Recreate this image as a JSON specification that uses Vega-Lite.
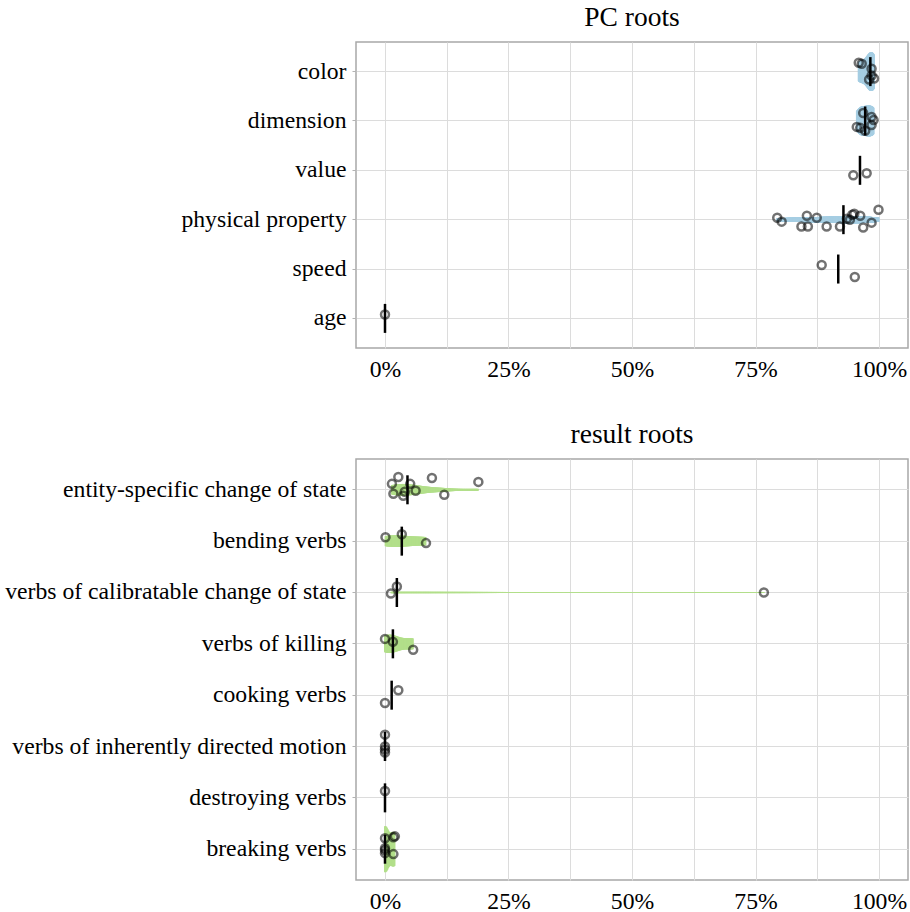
{
  "$schema": "https://vega.github.io/schema/vega-lite/v6.json",
  "background": "white",
  "padding": {"left": 3, "top": 2, "right": 2, "bottom": 2},
  "datasets": {
    "pts": [
      {"panel": "PC", "cat": "color", "v": 0.959, "j": -0.18},
      {"panel": "PC", "cat": "color", "v": 0.965, "j": -0.16},
      {"panel": "PC", "cat": "color", "v": 0.985, "j": -0.06},
      {"panel": "PC", "cat": "color", "v": 0.985, "j": 0.08},
      {"panel": "PC", "cat": "color", "v": 0.980, "j": 0.16},
      {"panel": "PC", "cat": "color", "v": 0.990, "j": 0.14},
      {"panel": "PC", "cat": "dimension", "v": 0.968, "j": -0.16},
      {"panel": "PC", "cat": "dimension", "v": 0.985, "j": -0.08},
      {"panel": "PC", "cat": "dimension", "v": 0.989, "j": -0.02},
      {"panel": "PC", "cat": "dimension", "v": 0.985, "j": 0.08},
      {"panel": "PC", "cat": "dimension", "v": 0.955, "j": 0.12},
      {"panel": "PC", "cat": "dimension", "v": 0.962, "j": 0.14},
      {"panel": "PC", "cat": "dimension", "v": 0.972, "j": 0.2},
      {"panel": "PC", "cat": "value", "v": 0.948, "j": 0.1},
      {"panel": "PC", "cat": "value", "v": 0.975, "j": 0.06},
      {"panel": "PC", "cat": "physical property", "v": 0.794, "j": -0.04},
      {"panel": "PC", "cat": "physical property", "v": 0.803, "j": 0.04},
      {"panel": "PC", "cat": "physical property", "v": 0.854, "j": -0.08},
      {"panel": "PC", "cat": "physical property", "v": 0.843, "j": 0.14},
      {"panel": "PC", "cat": "physical property", "v": 0.856, "j": 0.14},
      {"panel": "PC", "cat": "physical property", "v": 0.874, "j": -0.04},
      {"panel": "PC", "cat": "physical property", "v": 0.894, "j": 0.14},
      {"panel": "PC", "cat": "physical property", "v": 0.921, "j": 0.14},
      {"panel": "PC", "cat": "physical property", "v": 0.935, "j": -0.02},
      {"panel": "PC", "cat": "physical property", "v": 0.941, "j": 0.0},
      {"panel": "PC", "cat": "physical property", "v": 0.946, "j": -0.1},
      {"panel": "PC", "cat": "physical property", "v": 0.950, "j": -0.12},
      {"panel": "PC", "cat": "physical property", "v": 0.962, "j": -0.08},
      {"panel": "PC", "cat": "physical property", "v": 0.968, "j": 0.16},
      {"panel": "PC", "cat": "physical property", "v": 0.985, "j": 0.06},
      {"panel": "PC", "cat": "physical property", "v": 0.999, "j": -0.2},
      {"panel": "PC", "cat": "speed", "v": 0.884, "j": -0.08},
      {"panel": "PC", "cat": "speed", "v": 0.951, "j": 0.16},
      {"panel": "PC", "cat": "age", "v": 0.0, "j": -0.08},
      {"panel": "result", "cat": "entity-specific change of state", "v": 0.027, "j": -0.24},
      {"panel": "result", "cat": "entity-specific change of state", "v": 0.014, "j": -0.1},
      {"panel": "result", "cat": "entity-specific change of state", "v": 0.017, "j": 0.1},
      {"panel": "result", "cat": "entity-specific change of state", "v": 0.037, "j": 0.14},
      {"panel": "result", "cat": "entity-specific change of state", "v": 0.040, "j": 0.06},
      {"panel": "result", "cat": "entity-specific change of state", "v": 0.051, "j": -0.1},
      {"panel": "result", "cat": "entity-specific change of state", "v": 0.062, "j": 0.04},
      {"panel": "result", "cat": "entity-specific change of state", "v": 0.095, "j": -0.22},
      {"panel": "result", "cat": "entity-specific change of state", "v": 0.120, "j": 0.12},
      {"panel": "result", "cat": "entity-specific change of state", "v": 0.189, "j": -0.14},
      {"panel": "result", "cat": "bending verbs", "v": 0.001, "j": -0.06},
      {"panel": "result", "cat": "bending verbs", "v": 0.034, "j": -0.12},
      {"panel": "result", "cat": "bending verbs", "v": 0.083, "j": 0.06},
      {"panel": "result", "cat": "verbs of calibratable change of state", "v": 0.024, "j": -0.1},
      {"panel": "result", "cat": "verbs of calibratable change of state", "v": 0.012, "j": 0.04},
      {"panel": "result", "cat": "verbs of calibratable change of state", "v": 0.767, "j": 0.02},
      {"panel": "result", "cat": "verbs of killing", "v": 0.0, "j": -0.08},
      {"panel": "result", "cat": "verbs of killing", "v": 0.016, "j": -0.02},
      {"panel": "result", "cat": "verbs of killing", "v": 0.057, "j": 0.14},
      {"panel": "result", "cat": "cooking verbs", "v": 0.0, "j": 0.18},
      {"panel": "result", "cat": "cooking verbs", "v": 0.027, "j": -0.08},
      {"panel": "result", "cat": "verbs of inherently directed motion", "v": 0.0, "j": -0.22},
      {"panel": "result", "cat": "verbs of inherently directed motion", "v": 0.0, "j": 0.02},
      {"panel": "result", "cat": "verbs of inherently directed motion", "v": 0.0, "j": 0.08},
      {"panel": "result", "cat": "verbs of inherently directed motion", "v": 0.0, "j": 0.14},
      {"panel": "result", "cat": "destroying verbs", "v": 0.0, "j": -0.12},
      {"panel": "result", "cat": "breaking verbs", "v": 0.0, "j": -0.2},
      {"panel": "result", "cat": "breaking verbs", "v": 0.017, "j": -0.22},
      {"panel": "result", "cat": "breaking verbs", "v": 0.020, "j": -0.24},
      {"panel": "result", "cat": "breaking verbs", "v": 0.0, "j": 0.04},
      {"panel": "result", "cat": "breaking verbs", "v": 0.0, "j": 0.1},
      {"panel": "result", "cat": "breaking verbs", "v": 0.017, "j": 0.12},
      {"panel": "result", "cat": "breaking verbs", "v": 0.0, "j": 0.0}
    ]
  },
  "config": {
    "font": "Liberation Serif",
    "view": {"stroke": "#a8a8a8", "strokeWidth": 1.5},
    "axis": {
      "labelFont": "Liberation Serif",
      "labelFontSize": 23.7,
      "labelColor": "#000",
      "labelLimit": 500,
      "gridColor": "#dcdcdc",
      "gridWidth": 1,
      "domain": false,
      "tickColor": "#b3b3b3",
      "tickSize": 4,
      "title": null
    },
    "title": {"font": "Liberation Serif", "fontSize": 27.5, "fontWeight": "normal", "color": "#000", "offset": 11},
    "tick": {"opacity": 1}
  },
  "spacing": 37,
  "vconcat": [
    {
      "title": "PC roots",
      "width": 552,
      "height": 306,
      "data": {"name": "pts"},
      "transform": [{"filter": "datum.panel == 'PC'"}],
      "encoding": {
        "y": {
          "field": "cat", "type": "nominal",
          "scale": {"domain": ["color", "dimension", "value", "physical property", "speed", "age"], "paddingInner": 0, "paddingOuter": 0.1},
          "axis": {"labelPadding": 6, "grid": true}
        },
        "x": {
          "field": "v", "type": "quantitative",
          "scale": {"domain": [-0.0587, 1.0587], "nice": false, "zero": false},
          "axis": {"values": [0, 0.125, 0.25, 0.375, 0.5, 0.625, 0.75, 0.875, 1], "labelExpr": "datum.value % 0.25 == 0 ? format(datum.value, '.0%') : ''", "ticks": false, "labelPadding": 9, "grid": true}
        }
      },
      "layer": [
        {
          "transform": [
            {"filter": {"field": "cat", "oneOf": ["color", "dimension", "physical property"]}},
            {"joinaggregate": [{"op": "min", "field": "v", "as": "vmin"}, {"op": "max", "field": "v", "as": "vmax"}], "groupby": ["cat"]},
            {"density": "v", "groupby": ["cat", "vmin", "vmax"], "steps": 600, "as": ["v", "density"]},
            {"filter": "datum.v >= datum.vmin && datum.v <= datum.vmax"}
          ],
          "mark": {"type": "tick", "thickness": 2, "color": "#a6cee3", "opacity": 1},
          "encoding": {"size": {"field": "density", "type": "quantitative", "scale": {"range": [0, 46], "nice": false}, "legend": null}}
        },
        {
          "mark": {"type": "point", "shape": "circle", "filled": false, "strokeWidth": 2.5, "size": 64, "color": "#000", "opacity": 0.55},
          "encoding": {"yOffset": {"field": "j", "type": "quantitative", "scale": {"domain": [-0.5, 0.5], "range": [0, 49.35]}}}
        },
        {
          "mark": {"type": "tick", "thickness": 2.5, "size": 29, "color": "#000", "opacity": 1},
          "encoding": {"x": {"aggregate": "median", "field": "v", "type": "quantitative"}}
        }
      ]
    },
    {
      "title": "result roots",
      "width": 552,
      "height": 421,
      "data": {"name": "pts"},
      "transform": [{"filter": "datum.panel == 'result'"}],
      "encoding": {
        "y": {
          "field": "cat", "type": "nominal",
          "scale": {"domain": ["entity-specific change of state", "bending verbs", "verbs of calibratable change of state", "verbs of killing", "cooking verbs", "verbs of inherently directed motion", "destroying verbs", "breaking verbs"], "paddingInner": 0, "paddingOuter": 0.1},
          "axis": {"labelPadding": 6, "grid": true}
        },
        "x": {
          "field": "v", "type": "quantitative",
          "scale": {"domain": [-0.0587, 1.0587], "nice": false, "zero": false},
          "axis": {"values": [0, 0.125, 0.25, 0.375, 0.5, 0.625, 0.75, 0.875, 1], "labelExpr": "datum.value % 0.25 == 0 ? format(datum.value, '.0%') : ''", "ticks": false, "labelPadding": 9, "grid": true}
        }
      },
      "layer": [
        {
          "transform": [
            {"filter": {"field": "cat", "oneOf": ["entity-specific change of state", "bending verbs", "verbs of calibratable change of state", "verbs of killing", "breaking verbs"]}},
            {"joinaggregate": [{"op": "min", "field": "v", "as": "vmin"}, {"op": "max", "field": "v", "as": "vmax"}], "groupby": ["cat"]},
            {"density": "v", "groupby": ["cat", "vmin", "vmax"], "steps": 600, "as": ["v", "density"]},
            {"filter": "datum.v >= datum.vmin && datum.v <= datum.vmax"}
          ],
          "mark": {"type": "tick", "thickness": 2, "color": "#b2df8a", "opacity": 1},
          "encoding": {"size": {"field": "density", "type": "quantitative", "scale": {"range": [0, 46], "nice": false}, "legend": null}}
        },
        {
          "mark": {"type": "point", "shape": "circle", "filled": false, "strokeWidth": 2.5, "size": 64, "color": "#000", "opacity": 0.55},
          "encoding": {"yOffset": {"field": "j", "type": "quantitative", "scale": {"domain": [-0.5, 0.5], "range": [0, 51.34]}}}
        },
        {
          "mark": {"type": "tick", "thickness": 2.5, "size": 29, "color": "#000", "opacity": 1},
          "encoding": {"x": {"aggregate": "median", "field": "v", "type": "quantitative"}}
        }
      ]
    }
  ]
}
